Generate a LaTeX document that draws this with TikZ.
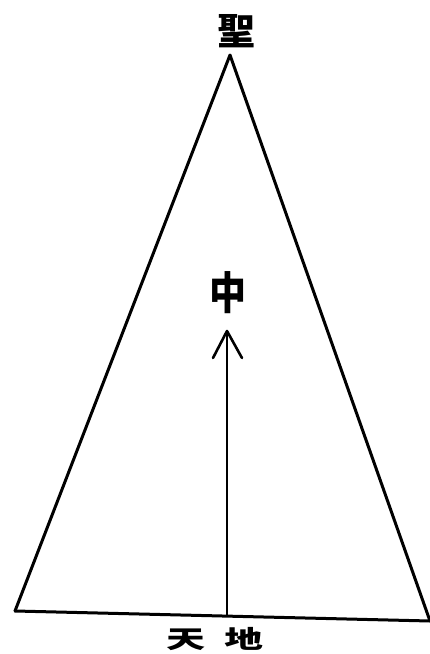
\documentclass[tikz,border=0pt]{standalone}
\usepackage{fontspec}
\newfontfamily\cjk{Noto Sans CJK TC}
\usetikzlibrary{arrows.meta}
\begin{document}
\begin{tikzpicture}[x=1pt,y=-1pt,
  edge/.style={line width=3pt,black,line cap=round,line join=round},
  lbl/.style={inner sep=0pt}]
\useasboundingbox (0,0) rectangle (430,654);
\coordinate (apex) at (230,55);
\coordinate (bl) at (15,611);
\coordinate (br) at (430,621);
\coordinate (foot) at (227,615);
\coordinate (tip) at (227,331);
\draw[edge] (bl) -- (apex) -- (br);
\draw[edge] (bl) -- (br);
\draw[line width=2.2pt,line cap=round] (foot) -- (tip);
\draw[line width=2.6pt,line cap=round,line join=round] (213,358) -- (tip) -- (242,358);
\node[lbl, font=\cjk\bfseries\fontsize{38}{38}\selectfont] (sheng) at (236,31) {聖};
\node[lbl, font=\cjk\bfseries\fontsize{37}{37}\selectfont] (zhong) at (228,293) {\scalebox{1}[1.2]{中}};
\node[lbl, font=\cjk\bfseries\fontsize{26}{26}\selectfont] (tiandi) at (215,639) {\scalebox{1.5}[0.95]{天\hspace{13pt}地}};
\end{tikzpicture}
\end{document}
